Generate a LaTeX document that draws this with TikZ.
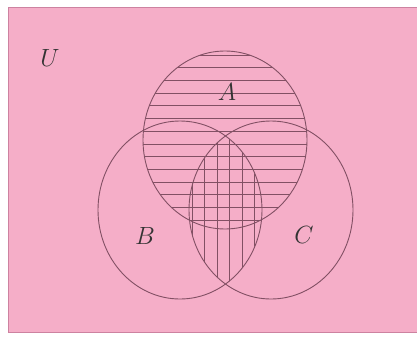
\documentclass[tikz,border=0pt]{standalone}
\usetikzlibrary{calc}
\definecolor{bgpink}{RGB}{245,174,200}
\definecolor{edgepink}{RGB}{205,130,160}
\definecolor{inkmauve}{RGB}{130,80,100}
\begin{document}
\begin{tikzpicture}[x=1pt,y=-1pt,
  outline/.style={draw=inkmauve,line width=0.9pt},
  hatch/.style={draw=inkmauve,line width=0.8pt},
  setlabel/.style={font=\fontsize{24}{26}\selectfont,text=black!80}]
  \def\rx{82}
  \def\ry{89}
  \useasboundingbox (0,0) rectangle (417,340);
  \fill[white] (0,0) rectangle (417,340);
  % universe
  \fill[bgpink] (8,7) rectangle (417,332);
  \draw[edgepink,line width=1pt] (417,7) -- (8,7) -- (8,332) -- (417,332);
  % centres
  \coordinate (ca) at (225,140);
  \coordinate (cb) at (180,210);
  \coordinate (cc) at (271,210);
  % A, horizontal lines
  \begin{scope}
    \clip (ca) ellipse [x radius=\rx, y radius=\ry];
    \foreach \y in {55,67.7,...,232}
      \draw[hatch] (130,\y) -- (320,\y);
  \end{scope}
  % B and C, vertical lines
  \begin{scope}
    \clip (cb) ellipse [x radius=\rx, y radius=\ry];
    \clip (cc) ellipse [x radius=\rx, y radius=\ry];
    \foreach \x in {192,204.5,...,266}
      \draw[hatch] (\x,110) -- (\x,310);
  \end{scope}
  \draw[outline] (ca) ellipse [x radius=\rx, y radius=\ry];
  \draw[outline] (cb) ellipse [x radius=\rx, y radius=\ry];
  \draw[outline] (cc) ellipse [x radius=\rx, y radius=\ry];
  % labels
  \node[setlabel] (u) at (50,58) {$U$};
  \node[setlabel] (a) at (227,92) {$A$};
  \node[setlabel] (b) at (145,236) {$B$};
  \node[setlabel] (c) at (304,235) {$C$};
\end{tikzpicture}
\end{document}
